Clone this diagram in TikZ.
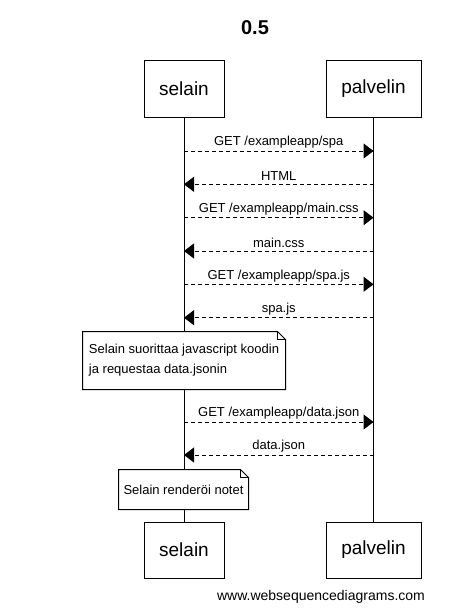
\documentclass[tikz,border=0pt]{standalone}
\usepackage{fontspec}
\setmainfont{Liberation Sans}
\usetikzlibrary{arrows.meta}
\begin{document}
\begin{tikzpicture}[x=1pt,y=-1pt,line width=1pt,
  actorbox/.style={draw,fill=white,inner sep=0pt,minimum height=57pt,font=\fontsize{19}{22}\selectfont},
  msg/.style={dash pattern=on 4pt off 3pt,-{Triangle[length=10pt,width=15pt]}},
  msglabel/.style={midway,yshift=8.5pt,inner sep=0pt,font=\fontsize{13}{15}\selectfont},
  notebox/.style={fill=white,inner sep=0pt,align=left,font=\fontsize{13}{20}\selectfont}]
\useasboundingbox (0,0) rectangle (475,613);
% title
\node[font=\bfseries\fontsize{20}{24}\selectfont] (title) at (255,28) {0.5};
% participants
\node[actorbox,minimum width=80pt] (stop) at (184,88.5) {selain};
\node[actorbox,minimum width=95pt] (ptop) at (373.5,88.5) {palvelin};
\node[actorbox,minimum width=80pt,minimum height=56pt] (sbot) at (184,550) {selain};
\node[actorbox,minimum width=95pt,minimum height=56pt] (pbot) at (373.5,550) {palvelin};
% lifelines
\draw (stop.south) -- (sbot.north);
\draw (ptop.south) -- (pbot.north);
% message end points
\coordinate (s1) at (184,151);   \coordinate (p1) at (373.5,151);
\coordinate (s2) at (184,184.3); \coordinate (p2) at (373.5,184.3);
\coordinate (s3) at (184,217.7); \coordinate (p3) at (373.5,217.7);
\coordinate (s4) at (184,251);   \coordinate (p4) at (373.5,251);
\coordinate (s5) at (184,284.3); \coordinate (p5) at (373.5,284.3);
\coordinate (s6) at (184,317.7); \coordinate (p6) at (373.5,317.7);
\coordinate (s7) at (184,422);   \coordinate (p7) at (373.5,422);
\coordinate (s8) at (184,455);   \coordinate (p8) at (373.5,455);
% messages
\draw[msg] (s1) -- node[msglabel] {GET /exampleapp/spa} (p1);
\draw[msg] (p2) -- node[msglabel] {HTML} (s2);
\draw[msg] (s3) -- node[msglabel] {GET /exampleapp/main.css} (p3);
\draw[msg] (p4) -- node[msglabel] {main.css} (s4);
\draw[msg] (s5) -- node[msglabel] {GET /exampleapp/spa.js} (p5);
\draw[msg] (p6) -- node[msglabel] {spa.js} (s6);
\draw[msg] (s7) -- node[msglabel] {GET /exampleapp/data.json} (p7);
\draw[msg] (p8) -- node[msglabel] {data.json} (s8);
% notes
\node[notebox,minimum width=202pt,minimum height=57pt] (n1) at (184,360.5) {Selain suorittaa javascript koodin\\ja requestaa data.jsonin};
\draw (n1.north west) -- ([xshift=-8pt]n1.north east) -- ([yshift=-8pt]n1.north east) -- (n1.south east) -- (n1.south west) -- cycle;
\draw ([xshift=-8pt]n1.north east) -- ([xshift=-8pt,yshift=-8pt]n1.north east) -- ([yshift=-8pt]n1.north east);
\node[notebox,minimum width=129pt,minimum height=39pt] (n2) at (183.5,489.5) {Selain renderöi notet};
\draw (n2.north west) -- ([xshift=-8pt]n2.north east) -- ([yshift=-8pt]n2.north east) -- (n2.south east) -- (n2.south west) -- cycle;
\draw ([xshift=-8pt]n2.north east) -- ([xshift=-8pt,yshift=-8pt]n2.north east) -- ([yshift=-8pt]n2.north east);
% footer
\node[font=\fontsize{14}{16}\selectfont] (footer) at (321,597) {www.websequencediagrams.com};
\end{tikzpicture}
\end{document}
